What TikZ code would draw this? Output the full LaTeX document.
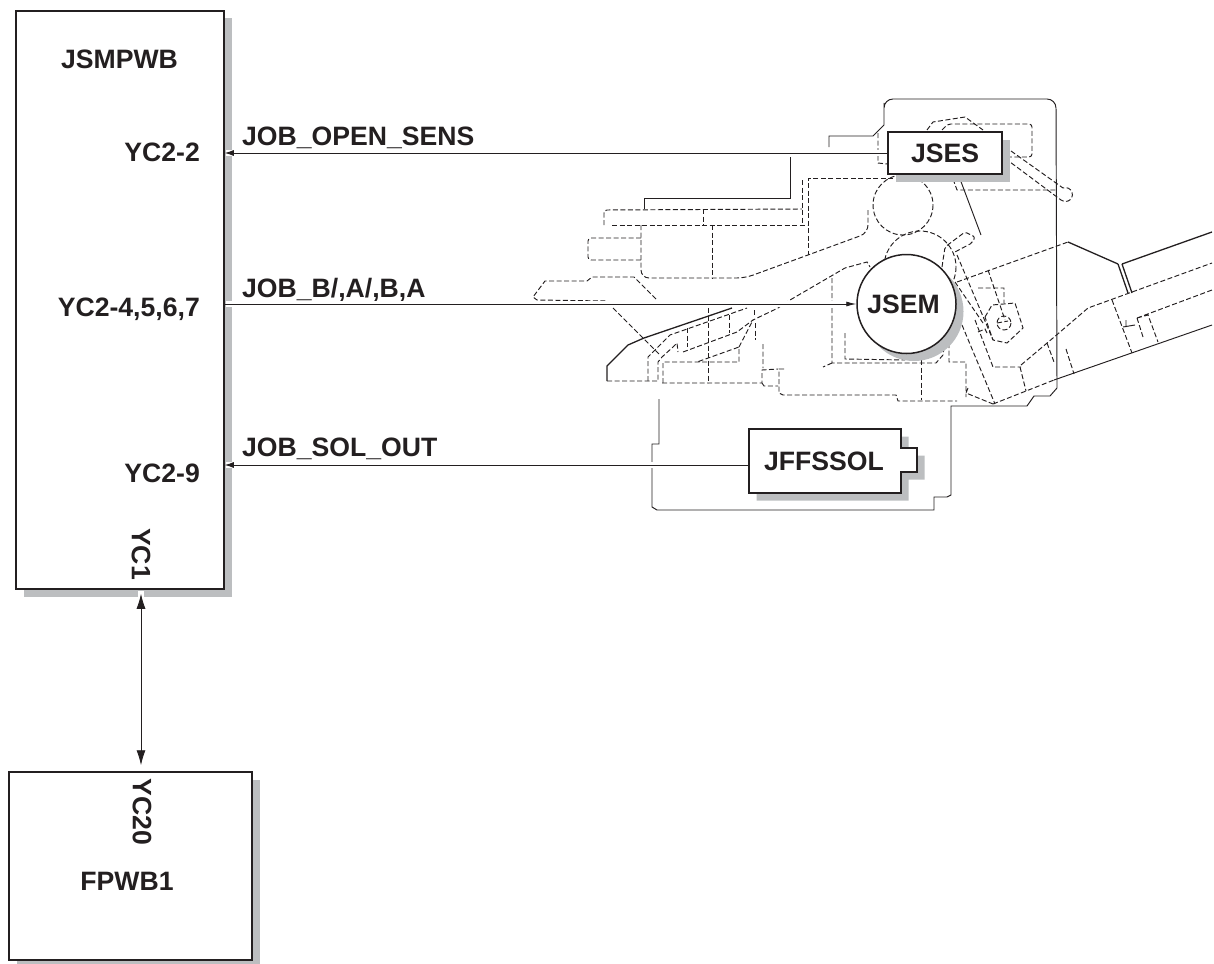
\documentclass[tikz,border=0pt]{standalone}
\usepackage{fontspec}
\setmainfont{Liberation Sans}
\usetikzlibrary{arrows.meta,shadows}
\definecolor{InkBlack}{HTML}{231F20}
\definecolor{ShadowGrey}{HTML}{BCBEC0}
\begin{document}
\begin{tikzpicture}[x=1pt,y=-1pt,
    bx/.style={draw=InkBlack,line width=1.5pt,fill=white},
    shadowed/.style={drop shadow={shadow xshift=7.5pt,shadow yshift=-7.5pt,fill=ShadowGrey,opacity=1}},
    box/.style={bx,shadowed,rectangle,inner sep=0pt,font=\bfseries\fontsize{26.6}{30}\selectfont,text=InkBlack},
    lbl/.style={inner sep=0pt,text=InkBlack,font=\bfseries\fontsize{26.6}{30}\selectfont},
    arr/.style={{Latex[length=9pt,width=6pt]}-,line width=.9pt,InkBlack,
                preaction={draw,white,line width=6pt,-,shorten <=1pt,shorten >=1pt}},
    solid line/.style={line width=.95pt,InkBlack},
    hidden line/.style={line width=.95pt,InkBlack,dash pattern=on 5pt off 2.5pt},
    thick line/.style={line width=1.3pt,InkBlack}]
  \useasboundingbox (0,0) rectangle (1214,963);
  % boards
  \node[box,minimum width=208pt,minimum height=578pt] (jsmpwb) at (120,300) {};
  \node[box,minimum width=243pt,minimum height=188pt] (fpwb) at (130.5,866) {};
  % housing
  \draw[solid line] (659,399) -- (659,444) -- (652,444) -- (652,507) -- (657,510) -- (934,510) -- (934,497)
    -- (947,497) -- (951,495) -- (951,406) -- (1027,406) -- (1034,396) -- (1050,396) -- (1057,388)
    -- (1056,107) [rounded corners=9pt] -- (1056,99) -- (884,99) -- (884,112) [sharp corners] -- (884,125) -- (873,136) -- (829,136) -- (829,147);
  \draw[solid line] (790,157) -- (790,198) -- (644,198) -- (644,209);
  % feeder, upper part
  \draw[hidden line] (802,180) -- (802,225) (612,225) -- (807,225) (703,209) -- (703,225);
  \draw[hidden line,rounded corners=3pt] (604,225) -- (604,210) -- (802,209);
  \draw[hidden line] (893,178) -- (808,178) -- (808,255);
  \draw[hidden line,rounded corners=8pt] (641,225) -- (641,278) -- (745,278) -- (808,255) -- (868,233) -- (868,210);
  \draw[hidden line] (712,225) -- (712,278);
  \draw[hidden line,rounded corners=3pt] (641,238) -- (588,238) -- (588,260) -- (641,260);
  \draw[hidden line] (656,299) -- (634,277) -- (592,277) -- (587,281) -- (545,281) -- (533,297) -- (537,300) -- (607,301);
  \draw[hidden line] (613,308) -- (660,355);
  % feeder, tray
  \draw[thick line] (732,308) -- (644,338) -- (628,345) -- (607,366) -- (607,381);
  \draw[hidden line] (607,381) -- (658,381) -- (658,362) -- (662,357) -- (673,347) -- (677,343) -- (678,352);
  \draw[hidden line] (648,381) -- (648,357) -- (670,335) -- (747,308);
  \draw[hidden line] (663,383) -- (663,362) -- (739,362) -- (739,347) -- (697,362);
  \draw[hidden line] (739,347) -- (753,320);
  \draw[hidden line] (662,383) -- (762,383) -- (762,370) -- (778,369);
  \draw[hidden line] (708,308) -- (708,383);
  \draw[hidden line] (683,352) -- (737,332) -- (753,320) -- (778,308) -- (790,300) -- (845,268) -- (867,262) -- (870,267);
  \draw[hidden line] (687,328) -- (687,347) (729,315) -- (729,333) (755,323) -- (755,340) (754,310) -- (754,317);
  \draw[hidden line] (763,344) -- (763,368) (762,383) -- (764,386) -- (778,386) (784,369) -- (779,369) -- (779,393) -- (783,395) -- (896,395) -- (898,401) -- (957,401);
  \draw[hidden line] (832,278) -- (832,363) -- (936,363) -- (943,355) -- (944,348) (832,363) -- (823,367);
  \draw[hidden line] (845,333) -- (845,359) -- (905,360);
  \draw[hidden line] (921,360) -- (921,400);
  \draw[hidden line] (949,343) -- (949,362) -- (966,362) -- (966,397) (968,388) -- (966,393) -- (993,404);
  % rollers and sensor lever
  \draw[hidden line] (903,205) circle (30);
  \draw[hidden line] (920,267) circle (36);
  \draw[hidden line] (878,133) -- (878,163) -- (887,164);
  \draw[hidden line] (927,130) -- (933,122) -- (965,117) -- (983,130);
  \draw[hidden line,rounded corners=3pt] (942,130) -- (948,124) -- (1032,124) -- (1032,157) -- (1010,157);
  \draw[hidden line] (1011,151) -- (1063,188) arc[start angle=-110,end angle=130,radius=7] -- (1010,162);
  \draw[hidden line] (953,179) -- (957,190) -- (1057,190);
  \draw[solid line] (960,179) -- (981,235);
  \draw[hidden line,rounded corners=2pt] (942,267) -- (945,247) -- (965,232) -- (975,237) -- (972,243) -- (953,253);
  % gear and chute
  \draw[hidden line] (957,255) -- (993,340) (955,282) -- (983,323) (962,325) -- (995,404);
  \draw[hidden line] (975,320) -- (993,367) -- (1021,367);
  \draw[hidden line] (978,332) -- (985,329) -- (987,333);
  \draw[hidden line] (978,288) -- (1004,288) -- (1004,303) (988,270) -- (1005,320);
  \draw[hidden line] (985,317) -- (992,305) -- (1015,303) -- (1023,328) -- (1007,343) -- (993,340) -- cycle;
  \draw[hidden line] (1004,323) circle (7);
  \draw[hidden line] (997,323) -- (1008,321);
  \draw[hidden line] (957,282) -- (1068,242);
  \draw[thick line] (1068,242) -- (1118,264);
  \draw[thick line] (1118,264) -- (1128,293) (1122,264) -- (1132,293) (1122,264) -- (1212,232);
  \draw[hidden line] (1021,365) -- (1053,338) -- (1088,308) -- (1212,263);
  \draw[hidden line] (1112,300) -- (1132,353);
  \draw[solid line] (1123,327) -- (1135,325) (1126,320) -- (1126,327);
  \draw[hidden line] (1137,318) -- (1148,315) -- (1158,342) (1137,318) -- (1143,337) (1137,318) -- (1212,290);
  \draw[hidden line] (1020,367) -- (1026,391) (1047,343) -- (1054,362) (1066,349) -- (1074,374);
  \draw[hidden line] (993,404) -- (1054,380);
  \draw[solid line] (1054,380) -- (1212,325);
  % parts
  \node[box,minimum width=114pt,minimum height=42pt] (jses) at (945,153) {JSES};
  \node[box,circle,minimum size=99pt] (jsem) at (906.5,304) {JSEM\kern 6pt};
  \fill[ShadowGrey] (756.5,436.5) -- (908.5,436.5) -- (908.5,455.5) -- (924.5,455.5) -- (924.5,479.5) -- (908.5,479.5) -- (908.5,500.5) -- (756.5,500.5) -- cycle;
  \draw[bx] (749,429) -- (901,429) -- (901,448) -- (917,448) -- (917,472) -- (901,472) -- (901,493) -- (749,493) -- cycle;
  \node[lbl,minimum width=150pt,minimum height=64pt] (jffssol) at (824,461) {JFFSSOL};
  \coordinate (solout) at (749,465);
  % texts
  \node[lbl,anchor=base] (jsmpwbname) at (119.5,69) {JSMPWB};
  \node[lbl,anchor=base east] (ycone) at (200,161) {YC2-2};
  \node[lbl,anchor=base east] (yctwo) at (200,316) {YC2-4,5,6,7};
  \node[lbl,anchor=base east] (ycnine) at (200,482) {YC2-9};
  \node[lbl,rotate=-90] (yc) at (141,554) {YC1};
  \node[lbl,rotate=-90] (yctwenty) at (142,812) {YC20};
  \node[lbl,anchor=base] (fpwbname) at (127,890) {FPWB1};
  \node[lbl,anchor=base west] (opensens) at (242,145) {JOB\_OPEN\_SENS};
  \node[lbl,anchor=base west] (jobab) at (242,297) {JOB\_B/,A/,B,A};
  \node[lbl,anchor=base west] (solouttxt) at (242,456) {JOB\_SOL\_OUT};
  % connectors
  \draw[arr] (jsmpwb.east |- jses.west) -- (jses.west);
  \draw[arr,-{Latex[length=10pt,width=5pt]}] (jsmpwb.east |- jsem.west) -- (jsem.west);
  \draw[arr] (jsmpwb.east |- solout) -- (solout);
  \draw[arr,{Latex[length=15pt,width=9pt]}-{Latex[length=15pt,width=9pt]},shorten <=4pt,shorten >=6pt]
    (yc |- jsmpwb.south) -- (yc |- fpwb.north);
\end{tikzpicture}
\end{document}
